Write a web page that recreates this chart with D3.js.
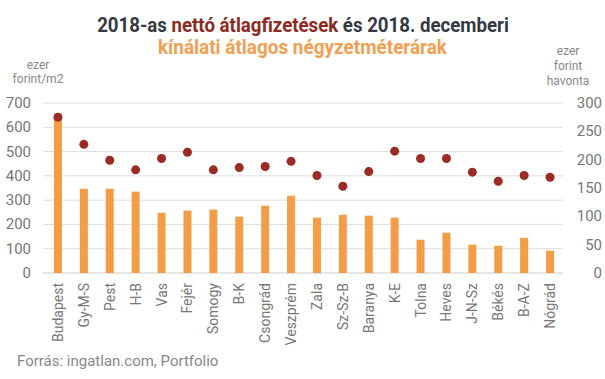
<!DOCTYPE html>
<html>
<head>
<meta charset="utf-8">
<script src="https://cdn.jsdelivr.net/npm/d3@7"></script>
<style>
  body { margin: 0; background: #fff; }
  text { font-family: Roboto, "Noto Sans", sans-serif; }
</style>
</head>
<body>
<div id="chart"></div>
<script>
// megyék (counties)
var counties = ["Budapest","Gy-M-S","Pest","H-B","Vas","Fejér","Somogy","B-K","Csongrád","Veszprém",
                "Zala","Sz-Sz-B","Baranya","K-E","Tolna","Heves","J-N-Sz","Békés","B-A-Z","Nógrád"];
// kínálati átlagos négyzetméterár, ezer Ft/m2 (left axis)
var sqmPrice = [656,347,347,335,248,257,261,232,277,318,228,240,236,228,137,166,117,112,145,92];
// nettó átlagfizetés, ezer Ft / hó (right axis)
var netWage = [275,227,199,182,202,213,182,186,188,197,172,153,179,215,202,202,178,162,172,169];
var leftTicks = [0,100,200,300,400,500,600,700];
var rightTicks = [0,50,100,150,200,250,300];

var W = 605, H = 379;
var plotL = 43, plotR = 563, plotTop = 103, plotBottom = 273;
var barColor = "#F39D47", dotColor = "#9B2B24", axisGray = "#777";

var svg = d3.select("#chart").append("svg")
  .attr("width", W).attr("height", H);

var x = d3.scaleBand().domain(counties).range([plotL + 2, plotR]);
var yL = d3.scaleLinear().domain([0, 700]).range([plotBottom, plotTop]);
var yR = d3.scaleLinear().domain([0, 300]).range([plotBottom, plotTop]);

// gridlines
svg.append("g").selectAll("line")
  .data(leftTicks)
  .enter().append("line")
    .attr("x1", plotL).attr("x2", plotR)
    .attr("y1", function(d) {return yL(d);})
    .attr("y2", function(d) {return yL(d);})
    .attr("stroke", function(d) {return d == 0 ? "#ccc" : "#ddd";})
    .attr("stroke-width", 1);

// left tick labels
svg.append("g").selectAll("text")
  .data(leftTicks)
  .enter().append("text")
    .attr("x", 31).attr("y", function(d) {return yL(d) + 5;})
    .attr("text-anchor", "end")
    .attr("font-size", 15).attr("fill", axisGray)
    .text(function(d) {return d;});

// right tick labels
svg.append("g").selectAll("text")
  .data(rightTicks)
  .enter().append("text")
    .attr("x", 602).attr("y", function(d) {return yR(d) + 5;})
    .attr("text-anchor", "end")
    .attr("font-size", 15).attr("fill", axisGray)
    .text(function(d) {return d;});

// bars
var barW = 8;
svg.append("g").selectAll("rect")
  .data(sqmPrice)
  .enter().append("rect")
    .attr("x", function(d,i) {return x(counties[i]) + x.bandwidth()/2 - barW/2;})
    .attr("y", function(d) {return yL(d);})
    .attr("width", barW)
    .attr("height", function(d) {return yL(0) - yL(d);})
    .attr("fill", barColor);

// dots
svg.append("g").selectAll("circle")
  .data(netWage)
  .enter().append("circle")
    .attr("cx", function(d,i) {return x(counties[i]) + x.bandwidth()/2;})
    .attr("cy", function(d) {return yR(d);})
    .attr("r", 4.5)
    .attr("fill", dotColor);

// category labels, rotated
svg.append("g").selectAll("text")
  .data(counties)
  .enter().append("text")
    .attr("transform", function(d) {
      return "translate(" + (x(d) + x.bandwidth()/2 + 5) + "," + (plotBottom + 10) + ") rotate(-90)";
    })
    .attr("text-anchor", "end")
    .attr("font-size", 14).attr("fill", axisGray)
    .text(function(d) {return d;});

// axis unit labels
var unitL = svg.append("text").attr("text-anchor", "middle").attr("font-size", 12).attr("fill", "#888");
unitL.append("tspan").attr("x", 38).attr("y", 69).text("ezer");
unitL.append("tspan").attr("x", 38).attr("y", 83).text("forint/m2");
var unitR = svg.append("text").attr("text-anchor", "middle").attr("font-size", 12).attr("fill", "#888");
unitR.append("tspan").attr("x", 568).attr("y", 55).text("ezer");
unitR.append("tspan").attr("x", 568).attr("y", 70).text("forint");
unitR.append("tspan").attr("x", 568).attr("y", 85).text("havonta");

// title, squeezed to the width of the original condensed face
function fitText(t, cx, targetW) {
  var w = t.node().getComputedTextLength();
  var s = targetW / w;
  t.attr("transform", "translate(" + cx + ",0) scale(" + s + ",1)");
}
var t1 = svg.append("text").attr("x", 0).attr("y", 32).attr("text-anchor", "middle")
  .attr("font-size", 20).attr("font-weight", "bold").attr("fill", "#343a42");
t1.append("tspan").text("2018-as ");
t1.append("tspan").attr("fill", "#8E2A22").text("nettó átlagfizetések");
t1.append("tspan").text(" és 2018. decemberi");
fitText(t1, 303, 412);

var t2 = svg.append("text").attr("x", 0).attr("y", 54).attr("text-anchor", "middle")
  .attr("font-size", 20).attr("font-weight", "bold").attr("fill", "#F0A052")
  .text("kínálati átlagos négyzetméterárak");
fitText(t2, 302.5, 289);

// source
svg.append("text").attr("x", 17).attr("y", 366)
  .attr("font-size", 15).attr("fill", "#888")
  .text("Forrás: ingatlan.com, Portfolio");
</script>
</body>
</html>
